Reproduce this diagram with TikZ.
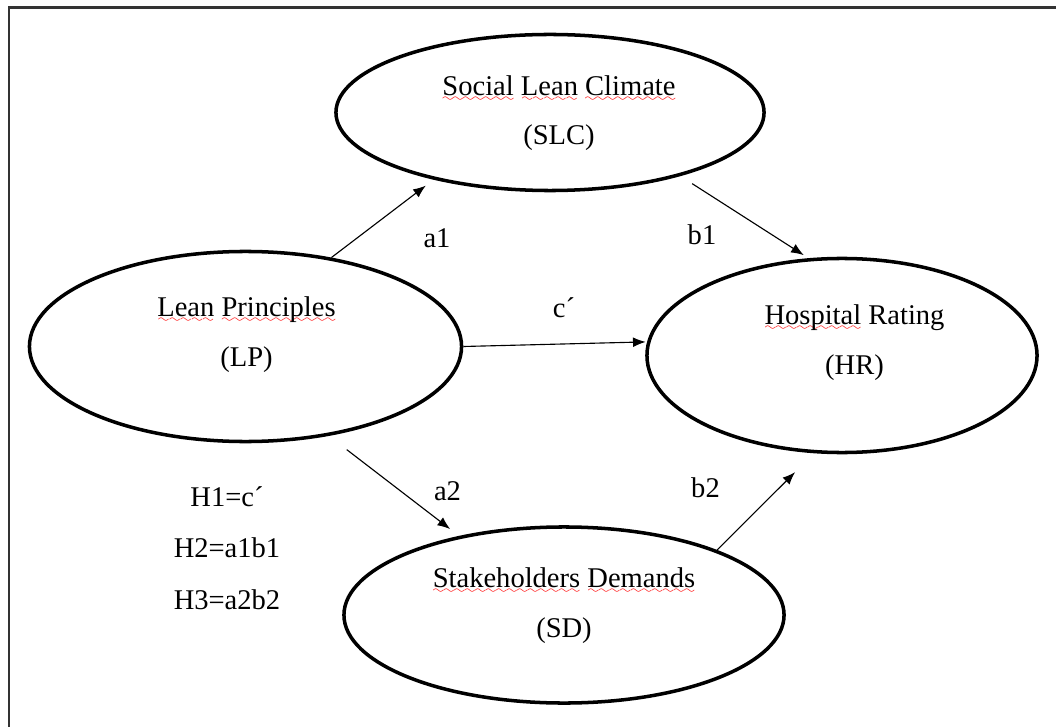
\documentclass[tikz,border=0pt]{standalone}
\usepackage{fontspec}
\setmainfont{Liberation Serif}
\usetikzlibrary{shapes.geometric, arrows.meta}

% red spell-check wave under a word
\font\spellfont=lasy6 scaled 1400
\newsavebox\spellbox
\newcommand\spellwave[1]{\sbox\spellbox{#1}%
  \rlap{\textcolor{red}{\lower4pt\hbox to \wd\spellbox{\xleaders\hbox{\spellfont\char58}\hfil}}}\usebox\spellbox}

\begin{document}
\begin{tikzpicture}[x=0.025cm, y=-0.025cm,
    latent/.style={draw, ellipse, line width=2.5pt, inner sep=0pt},
    caption/.style={align=center, font=\fontsize{20.3}{35}\selectfont, inner sep=0pt, anchor=base},
    coef/.style={font=\fontsize{20.3}{24}\selectfont, inner sep=0pt, anchor=base},
    effect/.style={-{Latex[length=9pt, width=7pt]}, line width=0.8pt},
    frame/.style={line width=1.8pt, black!80}]
  \useasboundingbox (0,0) rectangle (1056,727);

  % Frame (top and left edges only)
  \draw[frame] (9,727) -- (9,7.5) -- (1056,7.5);

  % Constructs (base anchor = baseline of the last line)
  \node[latent, minimum width=10.7cm, minimum height=3.9cm] (slc) at (550,112.5) {};
  \node[latent, minimum width=10.8cm, minimum height=4.75cm] (lp) at (245.5,346.5) {};
  \node[latent, minimum width=9.75cm, minimum height=4.85cm] (hr) at (842,355.5) {};
  \node[latent, minimum width=11cm, minimum height=4.4cm] (sd) at (564,615) {};

  \node[caption] (slc-text) at (559,145) {\spellwave{Social} \spellwave{Lean} \spellwave{Climate}\\(SLC)};
  \node[caption] (lp-text) at (246.5,366) {\spellwave{Lean} \spellwave{Principles}\\(LP)};
  \node[caption] (hr-text) at (854.5,374) {\spellwave{Hospital} Rating\\(HR)};
  \node[caption] (sd-text) at (564,637) {\spellwave{Stakeholders} \spellwave{Demands}\\(SD)};

  % Paths
  \draw[effect, shorten >=7pt] (lp.46) -- (slc.210.5);
  \draw[effect, shorten <=10pt, shorten >=4pt] (slc.334.7) -- (hr.109.9);
  \draw[effect, shorten >=1pt] (lp.0) -- (hr.176);
  \draw[effect, shorten <=16pt, shorten >=8pt] (lp.313.9) -- (sd.143.3);
  \draw[effect, shorten >=19pt] (sd.23.8) -- (hr.254.6);

  % Path labels
  \node[coef] (a1) at (437,248) {a1};
  \node[coef] (b1) at (702,245) {b1};
  \node[coef] (c) at (564,317) {c´};
  \node[coef] (a2) at (447.5,500) {a2};
  \node[coef] (b2) at (705.5,497) {b2};

  % Hypotheses
  \node[caption, font=\fontsize{20.3}{36.6}\selectfont] (hyp) at (227,609) {H1=c´\\H2=a1b1\\H3=a2b2};
\end{tikzpicture}
\end{document}
